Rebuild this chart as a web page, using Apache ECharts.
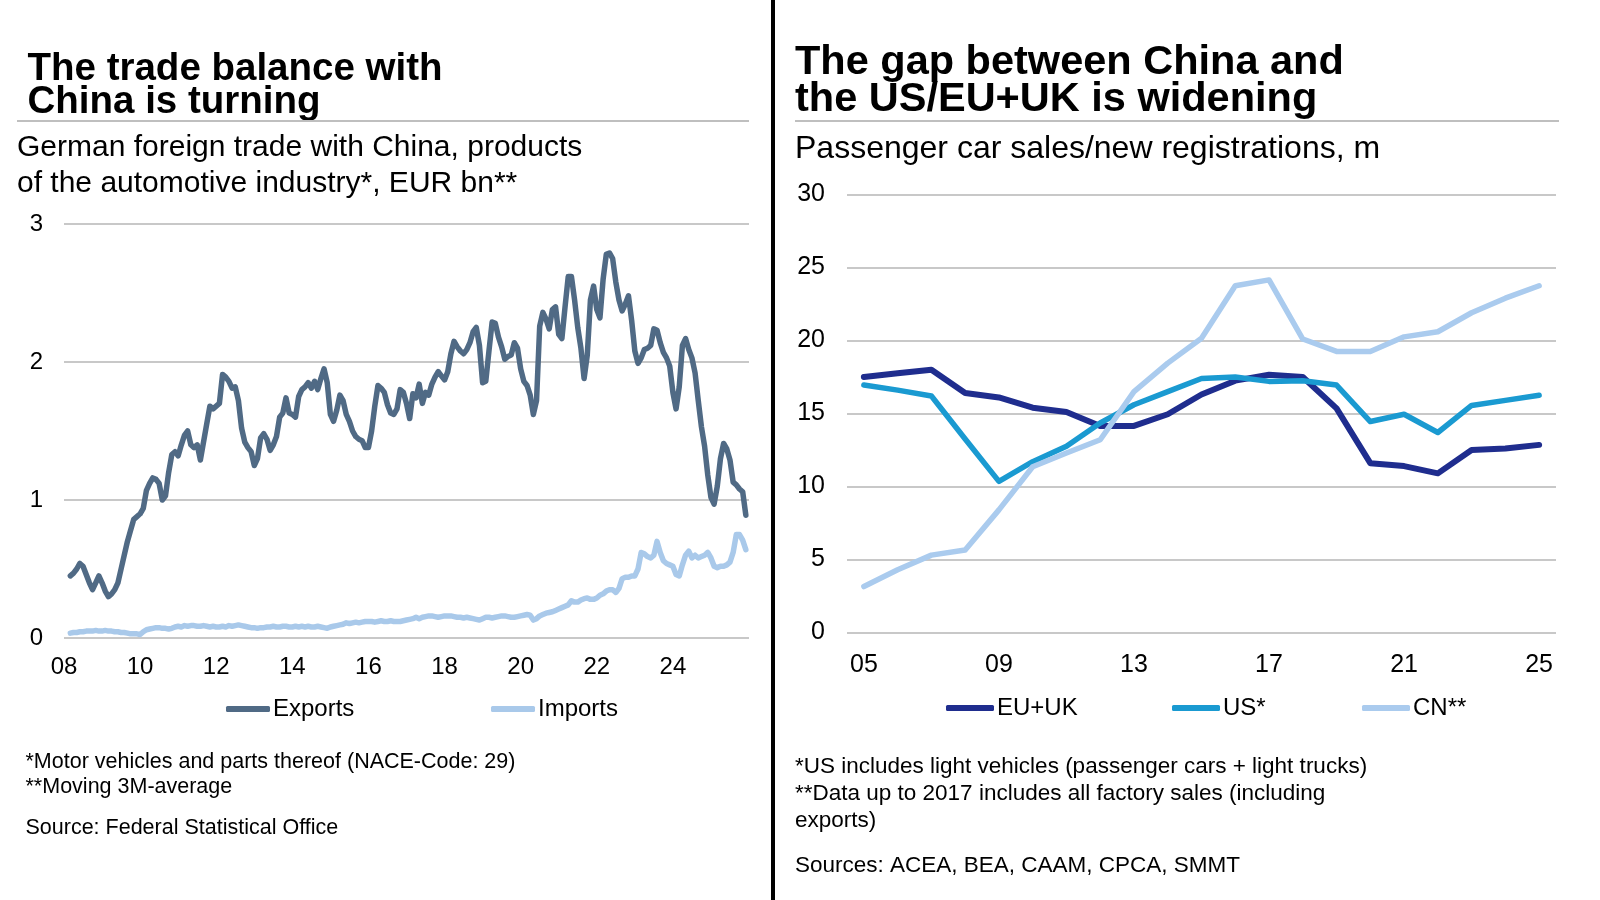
<!DOCTYPE html>
<html><head><meta charset="utf-8">
<script src="https://cdn.jsdelivr.net/npm/echarts@6/dist/echarts.min.js"></script>
<style>html,body{margin:0;padding:0;background:#fff}#c{width:1600px;height:900px}</style>
</head><body><div id="c"></div>
<script>
const FONT = "'Liberation Sans', Arial, Helvetica, sans-serif";

// ---------- Left chart: German foreign trade with China (monthly, 3M avg), EUR bn ----------
const tradeStartYear = 2008;
const tradeStartMonth = 3; // first data point: March 2008
const exportsData = [
  0.45,0.47,0.50,0.54,0.52,0.46,0.40,0.35,0.40,0.45,
  0.40,0.34,0.30,0.32,0.35,0.40,0.50,0.60,0.70,0.78,
  0.86,0.88,0.90,0.94,1.07,1.12,1.16,1.15,1.12,1.00,
  1.03,1.20,1.33,1.35,1.32,1.40,1.47,1.50,1.40,1.38,
  1.40,1.29,1.42,1.55,1.68,1.66,1.68,1.70,1.91,1.89,
  1.86,1.81,1.82,1.72,1.52,1.42,1.38,1.35,1.25,1.30,
  1.45,1.48,1.44,1.36,1.40,1.46,1.60,1.63,1.74,1.63,
  1.62,1.60,1.75,1.80,1.82,1.85,1.81,1.86,1.80,1.88,
  1.95,1.85,1.62,1.57,1.65,1.76,1.72,1.62,1.57,1.50,
  1.46,1.44,1.43,1.38,1.38,1.50,1.68,1.83,1.81,1.78,
  1.69,1.63,1.62,1.66,1.80,1.78,1.70,1.59,1.77,1.74,
  1.84,1.70,1.78,1.76,1.84,1.89,1.93,1.90,1.87,1.93,
  2.06,2.15,2.11,2.08,2.06,2.09,2.14,2.22,2.25,2.12,
  1.85,1.86,2.08,2.29,2.28,2.18,2.11,2.02,2.04,2.05,
  2.14,2.10,1.95,1.86,1.83,1.76,1.62,1.72,2.26,2.36,
  2.31,2.24,2.38,2.40,2.20,2.17,2.40,2.62,2.62,2.45,
  2.25,2.10,1.88,2.05,2.45,2.55,2.38,2.32,2.60,2.78,
  2.79,2.75,2.58,2.45,2.37,2.42,2.48,2.30,2.08,1.99,
  2.03,2.09,2.10,2.12,2.24,2.23,2.14,2.07,2.03,1.97,
  1.78,1.66,1.82,2.12,2.17,2.09,2.03,1.92,1.72,1.53,
  1.39,1.18,1.02,0.97,1.10,1.30,1.41,1.37,1.29,1.13,
  1.11,1.08,1.06,0.89
];
const importsData = [
  0.035,0.04,0.04,0.045,0.045,0.05,0.05,0.05,0.055,0.05,
  0.05,0.055,0.05,0.05,0.045,0.045,0.04,0.04,0.035,0.03,
  0.03,0.03,0.025,0.045,0.06,0.065,0.07,0.075,0.075,0.07,
  0.07,0.065,0.07,0.08,0.085,0.08,0.09,0.085,0.09,0.09,
  0.085,0.085,0.09,0.085,0.08,0.085,0.08,0.08,0.085,0.08,
  0.09,0.085,0.09,0.095,0.09,0.085,0.08,0.075,0.075,0.07,
  0.075,0.075,0.08,0.08,0.085,0.08,0.08,0.085,0.085,0.08,
  0.08,0.085,0.08,0.085,0.08,0.085,0.08,0.08,0.085,0.08,
  0.075,0.07,0.08,0.085,0.09,0.095,0.10,0.11,0.105,0.11,
  0.115,0.11,0.115,0.12,0.12,0.12,0.115,0.12,0.125,0.12,
  0.12,0.125,0.12,0.12,0.12,0.125,0.13,0.135,0.14,0.15,
  0.14,0.15,0.155,0.16,0.16,0.155,0.15,0.155,0.16,0.16,
  0.16,0.155,0.15,0.15,0.145,0.15,0.145,0.14,0.135,0.13,
  0.14,0.15,0.15,0.145,0.15,0.155,0.16,0.16,0.155,0.15,
  0.15,0.155,0.16,0.165,0.17,0.165,0.13,0.14,0.16,0.17,
  0.18,0.185,0.19,0.20,0.21,0.22,0.23,0.24,0.27,0.26,
  0.26,0.275,0.285,0.29,0.28,0.28,0.29,0.31,0.32,0.34,
  0.35,0.35,0.33,0.36,0.43,0.44,0.44,0.45,0.45,0.50,
  0.62,0.61,0.59,0.58,0.60,0.70,0.62,0.56,0.54,0.53,
  0.52,0.46,0.45,0.53,0.60,0.63,0.58,0.60,0.58,0.59,
  0.60,0.62,0.58,0.52,0.51,0.52,0.52,0.53,0.55,0.62,
  0.75,0.75,0.71,0.64
];
const tradeAxisMin = 2008, tradeAxisMax = 2026, tradeAxisStep = 2;
const tradeYMax = 3, tradeYStep = 1;

// ---------- Right chart: passenger car sales / new registrations, m ----------
const carYears = ['05','06','07','08','09','10','11','12','13','14','15','16','17','18','19','20','21','22','23','24','25'];
const euUK = [17.5,17.75,18.0,16.4,16.1,15.4,15.1,14.15,14.15,14.95,16.3,17.25,17.65,17.5,15.35,11.6,11.4,10.9,12.5,12.6,12.85];
const usSales = [16.95,16.6,16.2,13.25,10.35,11.7,12.75,14.35,15.6,16.5,17.4,17.5,17.2,17.25,16.95,14.45,14.95,13.7,15.55,15.9,16.25];
const cnSales = [3.15,4.3,5.3,5.65,8.4,11.35,12.3,13.2,16.5,18.45,20.15,23.75,24.15,20.1,19.25,19.25,20.25,20.6,21.9,22.9,23.75];
const carYMax = 30, carYStep = 5;

// ---------- build ----------
function monthly(arr) {
  return arr.map((v, i) => [tradeStartYear + (tradeStartMonth - 1 + i) / 12, v]);
}
const GRID = '#c8c8c8';
const chart = echarts.init(document.getElementById('c'), null, {renderer: 'canvas'});

function txt(x, y, s, size, weight, color) {
  return {type: 'text', left: x, top: y - size / 2, style: {text: s, font: (weight || 'normal') + ' ' + size + 'px ' + FONT, fill: color || '#000'}};
}
function legendAt(name, left, top, w) {
  return {data: [name], left: left, top: top, padding: 0, icon: 'roundRect', itemWidth: w, itemHeight: 6,
    selectedMode: false, itemGap: 0, textStyle: {fontSize: 24, color: '#000', fontFamily: FONT, padding: [0, 0, 0, -2]}};
}

const option = {
  backgroundColor: '#fff',
  animation: false,
  grid: [
    {left: 64, top: 224, width: 685, height: 414},
    {left: 847, top: 194.5, width: 709, height: 438}
  ],
  xAxis: [
    {type: 'value', gridIndex: 0, min: tradeAxisMin, max: tradeAxisMax, interval: tradeAxisStep,
      axisLine: {show: false}, axisTick: {show: false}, splitLine: {show: false},
      axisLabel: {fontSize: 24, color: '#000', fontFamily: FONT, margin: 17, showMaxLabel: false,
        formatter: v => v >= tradeAxisMax ? '' : String(v % 100).padStart(2, '0')}},
    {type: 'category', gridIndex: 1, data: carYears, boundaryGap: true,
      axisLine: {show: false}, axisTick: {show: false}, splitLine: {show: false},
      axisLabel: {fontSize: 25, color: '#000', fontFamily: FONT, margin: 20, interval: 3}}
  ],
  yAxis: [
    {type: 'value', gridIndex: 0, min: 0, max: tradeYMax, interval: tradeYStep,
      axisLine: {show: false}, axisTick: {show: false},
      splitLine: {lineStyle: {color: GRID, width: 2}},
      axisLabel: {fontSize: 24, color: '#000', fontFamily: FONT, margin: 21}},
    {type: 'value', gridIndex: 1, min: 0, max: carYMax, interval: carYStep,
      axisLine: {show: false}, axisTick: {show: false},
      splitLine: {lineStyle: {color: GRID, width: 2}},
      axisLabel: {fontSize: 25, color: '#000', fontFamily: FONT, margin: 22}}
  ],
  legend: [
    legendAt('Exports', 226, 697, 44),
    legendAt('Imports', 491, 697, 44),
    legendAt('EU+UK', 946, 696, 48),
    legendAt('US*', 1172, 696, 48),
    legendAt('CN**', 1362, 696, 48)
  ],
  series: [
    {name: 'Imports', type: 'line', xAxisIndex: 0, yAxisIndex: 0, data: monthly(importsData), showSymbol: false, symbol: 'none',
      color: '#a9c9ea', lineStyle: {width: 5.5, color: '#a9c9ea', cap: 'round', join: 'round'}},
    {name: 'Exports', type: 'line', xAxisIndex: 0, yAxisIndex: 0, data: monthly(exportsData), showSymbol: false, symbol: 'none',
      color: '#506a85', lineStyle: {width: 5.5, color: '#506a85', cap: 'round', join: 'round'}},
    {name: 'EU+UK', type: 'line', xAxisIndex: 1, yAxisIndex: 1, data: euUK, showSymbol: false, symbol: 'none',
      color: '#1f2d8e', lineStyle: {width: 6, color: '#1f2d8e', cap: 'round', join: 'round'}},
    {name: 'US*', type: 'line', xAxisIndex: 1, yAxisIndex: 1, data: usSales, showSymbol: false, symbol: 'none',
      color: '#1a9ad1', lineStyle: {width: 5.5, color: '#1a9ad1', cap: 'round', join: 'round'}},
    {name: 'CN**', type: 'line', xAxisIndex: 1, yAxisIndex: 1, data: cnSales, showSymbol: false, symbol: 'none',
      color: '#aacbee', lineStyle: {width: 5.5, color: '#aacbee', cap: 'round', join: 'round'}}
  ],
  graphic: [
    // divider
    {type: 'rect', shape: {x: 771, y: 0, width: 4, height: 900}, style: {fill: '#000'}},
    // left header
    txt(27.5, 69.5, 'The trade balance with', 38.5, 'bold'),
    txt(27.5, 102, 'China is turning', 38.5, 'bold'),
    {type: 'line', shape: {x1: 17, y1: 121, x2: 749, y2: 121}, style: {stroke: '#bfbfbf', lineWidth: 2}},
    txt(17, 148, 'German foreign trade with China, products', 30),
    txt(17, 183.5, 'of the automotive industry*, EUR bn**', 30),
    // left footnotes
    txt(25.5, 762, '*Motor vehicles and parts thereof (NACE-Code: 29)', 21.5),
    txt(25.5, 787, '**Moving 3M-average', 21.5),
    txt(25.5, 827.5, 'Source: Federal Statistical Office', 21.5),
    // right header
    txt(795, 62, 'The gap between China and', 41.5, 'bold'),
    txt(795, 99, 'the US/EU+UK is widening', 41.5, 'bold'),
    {type: 'line', shape: {x1: 795, y1: 121, x2: 1559, y2: 121}, style: {stroke: '#bfbfbf', lineWidth: 2}},
    txt(795, 149.5, 'Passenger car sales/new registrations, m', 32),
    // right footnotes
    txt(795, 766.5, '*US includes light vehicles (passenger cars + light trucks)', 22.5),
    txt(795, 794, '**Data up to 2017 includes all factory sales (including', 22.5),
    txt(795, 821, 'exports)', 22.5),
    txt(795, 865.5, 'Sources: ACEA, BEA, CAAM, CPCA, SMMT', 22.5)
  ]
};
chart.setOption(option);
</script>
</body></html>
